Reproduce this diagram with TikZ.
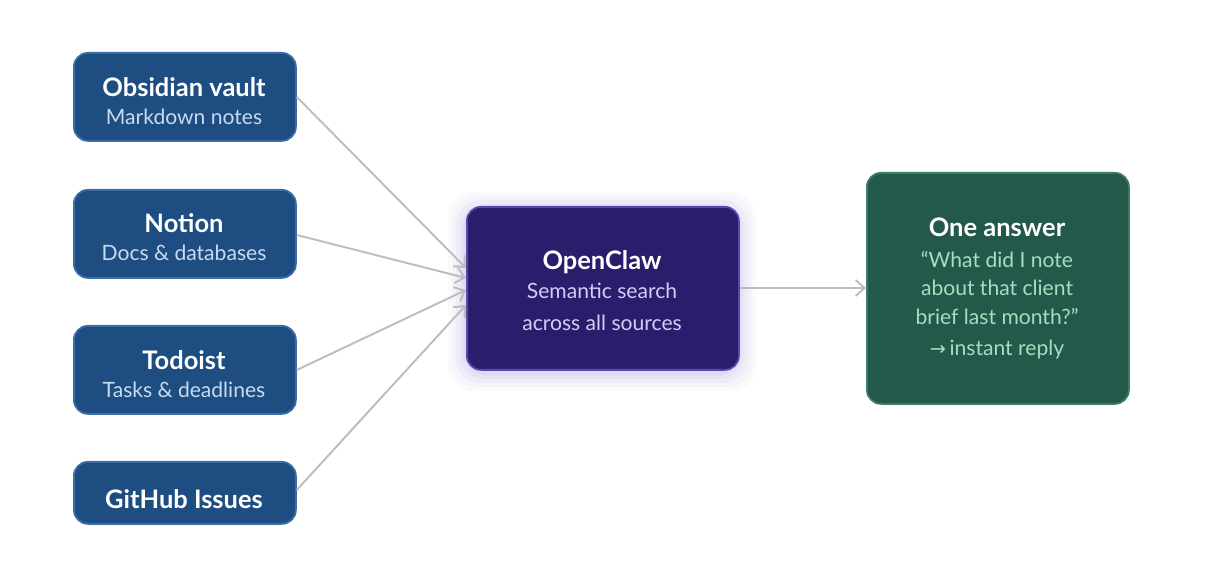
\documentclass[tikz,border=0pt]{standalone}
\usepackage{fontspec}
\setmainfont{Lato}
\newfontfamily\symfont{DejaVu Sans}
\usetikzlibrary{arrows.meta}
\definecolor{srcblue}{HTML}{1E4D82}
\definecolor{srcedge}{HTML}{3A6DA8}
\definecolor{subblue}{HTML}{C9DAF0}
\definecolor{hub}{HTML}{2B1D6B}
\definecolor{hubedge}{HTML}{5A48B0}
\definecolor{subhub}{HTML}{D3CCF5}
\definecolor{ans}{HTML}{22594A}
\definecolor{ansedge}{HTML}{3E7A68}
\definecolor{subans}{HTML}{A8DCC0}
\definecolor{conn}{HTML}{BDBDBD}
\definecolor{glow}{HTML}{7A66D0}
\begin{document}
\begin{tikzpicture}[x=0.02cm,y=-0.02cm,
  box/.style={draw,line width=1pt,rounded corners=8pt,anchor=north west,inner sep=0pt,align=center},
  src/.style={box,fill=srcblue,draw=srcedge},
  ttl/.style={font=\fontsize{14.5}{16}\selectfont\bfseries,text=white},
  sub/.style={font=\fontsize{12}{14}\selectfont,align=center},
  conn/.style={draw=conn,line width=1.1pt,-{Straight Barb[length=5pt,width=9pt]}}]
\useasboundingbox[fill=white] (0,0) rectangle (1227,563);
\node[src,minimum width=222*0.02cm,minimum height=88*0.02cm] (s1) at (73,52) {};
\node[src,minimum width=222*0.02cm,minimum height=88*0.02cm] (s2) at (73,189) {};
\node[src,minimum width=222*0.02cm,minimum height=88*0.02cm] (s3) at (73,325) {};
\node[src,minimum width=222*0.02cm,minimum height=62*0.02cm] (s4) at (73,461) {};
\node[ttl] (t1) at (184,87) {Obsidian vault};
\node[sub,text=subblue] (u1) at (184,117) {Markdown notes};
\node[ttl] (t2) at (184,223) {Notion};
\node[sub,text=subblue] (u2) at (184,253) {Docs \& databases};
\node[ttl] (t3) at (184,360) {Todoist};
\node[sub,text=subblue] (u3) at (184,390) {Tasks \& deadlines};
\node[ttl] (t4) at (184,499) {GitHub Issues};
\foreach \r/\o in {18/3,14/4,10/5,6/6,3/7}
  \fill[glow,opacity=0.0\o,rounded corners=14pt] (466-\r,210-\r) rectangle (738+\r,373+\r);
\node[box,fill=hub,draw=hubedge,minimum width=272*0.02cm,minimum height=163*0.02cm] (h) at (466,206) {};
\node[ttl] (ht) at (602,262) {OpenClaw};
\node[sub,text=subhub] (hs) at (602,307) {Semantic search\\[4pt]across all sources};
\node[box,fill=ans,draw=ansedge,minimum width=262*0.02cm,minimum height=231*0.02cm] (a) at (866,172) {};
\node[ttl] (at) at (997,227) {One answer};
\node[sub,text=subans] (as) at (997,288) {“What did I note\\[2pt]about that client\\[2pt]brief last month?”};
\node[sub,text=subans] (ar) at (997,350) {{\symfont\fontsize{11}{12}\selectfont →}\,instant reply};
\coordinate (e1) at (466,268);
\coordinate (e2) at (466,278);
\coordinate (e3) at (466,290);
\coordinate (e4) at (466,305);
\draw[conn] (s1.east |- 0,97) -- (e1);
\draw[conn] (s2.east |- 0,235) -- (e2);
\draw[conn] (s3.east |- 0,370) -- (e3);
\draw[conn] (s4.east |- 0,490) -- (e4);
\draw[conn] (h.east |- 0,288) -- (a.west |- 0,288);
\end{tikzpicture}
\end{document}
